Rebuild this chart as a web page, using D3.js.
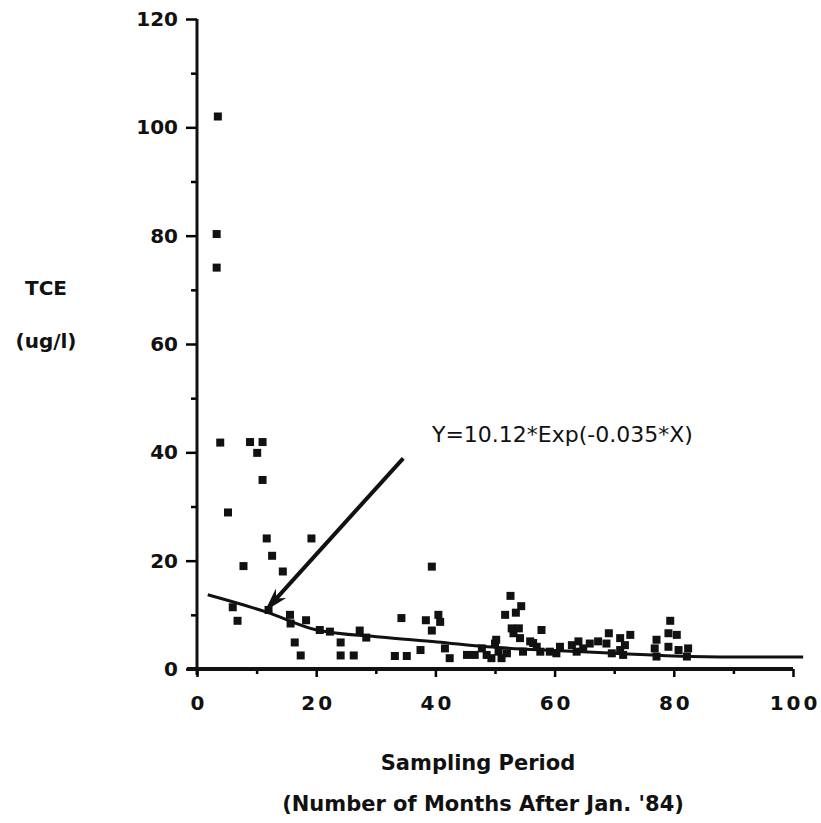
<!DOCTYPE html>
<html lang="en">
<head>
    <meta charset="UTF-8">
    <title>TCE vs Sampling Period</title>
    <script src="https://d3js.org/d3.v7.min.js"></script>
    <style>
        body { margin: 0; background: #fff; }
        svg { display: block; }
        .tick text { font-family: "DejaVu Sans", sans-serif; font-weight: bold; fill: #111; }
        .lbl { font-family: "DejaVu Sans", sans-serif; font-weight: bold; fill: #111; }
    </style>
</head>
<body>
    <svg width="821" height="823"></svg>
    <script>
        // sampled points (months after Jan '84, TCE ug/l)
        var months = [3.5, 3.3, 3.3, 3.9, 8.9, 11.0, 10.1, 11.0, 5.2, 11.7, 19.2, 12.6, 7.8, 14.4, 6.0, 6.8, 12.0, 15.6, 15.7, 18.3,
            16.4, 17.4, 20.6, 22.3, 24.1, 24.1, 26.3, 27.3, 28.4, 39.4, 34.3, 38.4, 40.5, 40.8, 39.4, 33.2, 35.2, 37.5, 41.6, 42.4,
            45.3, 46.6, 47.8, 48.6, 50.0, 50.6, 51.1, 49.4, 52.0, 52.6, 54.4, 53.5, 51.7, 52.8, 54.0, 53.1, 54.2, 57.8, 55.9, 57.0,
            57.6, 59.2, 60.9, 62.9, 63.7, 54.7, 64.0, 64.8, 65.9, 67.3, 68.7, 69.1, 69.6, 71.0, 71.0, 71.8, 72.7, 71.5, 77.1, 76.8,
            77.1, 79.4, 79.1, 80.5, 79.1, 80.8, 82.4, 82.2, 60.3, 56.4, 50.2];
        var tce = [102, 80.3, 74.1, 41.8, 41.9, 41.9, 39.9, 34.9, 28.9, 24.1, 24.1, 20.9, 19.0, 18.0, 11.4, 8.9, 10.9, 10.0, 8.4, 9.0,
            4.9, 2.5, 7.2, 6.9, 4.9, 2.5, 2.5, 7.1, 5.8, 18.9, 9.4, 9.0, 10.0, 8.7, 7.1, 2.4, 2.4, 3.5, 3.8, 2.0,
            2.6, 2.6, 3.8, 2.6, 4.7, 3.2, 2.0, 2.0, 2.9, 13.5, 11.6, 10.4, 10.0, 7.5, 7.5, 6.6, 5.7, 7.2, 5.1, 4.1,
            3.2, 3.2, 4.1, 4.4, 3.2, 3.2, 5.1, 3.8, 4.7, 5.1, 4.7, 6.6, 2.9, 5.7, 3.5, 4.4, 6.3, 2.6, 5.4, 3.8,
            2.3, 8.9, 6.6, 6.3, 4.1, 3.5, 3.8, 2.3, 2.9, 4.8, 5.4];

        // fitted curve as drawn
        var fitX = [1.8, 11.7, 20.1, 30.7, 40.3, 48.7, 60, 70, 80, 90, 101.7];
        var fitY = [13.7, 10.5, 7.2, 5.9, 5.0, 4.1, 3.4, 2.9, 2.4, 2.2, 2.2];

        var xMajor = [0, 20, 40, 60, 80, 100];
        var xMinor = [10, 30, 50, 70, 90];
        var yMajor = [0, 20, 40, 60, 80, 100, 120];
        var yMinor = [10, 30, 50, 70, 90, 110];

        var fitLabel = "Y=10.12*Exp(-0.035*X)";
        var arrowFrom = [34.6, 38.9], arrowTo = [11.4, 10.7];

        var svg = d3.select("svg");
        var x = d3.scaleLinear().domain([0, 100]).range([197, 793]);
        var y = d3.scaleLinear().domain([0, 120]).range([669, 19]);

        // y axis
        var gy = svg.append("g").attr("transform", "translate(" + x(0) + ",0)");
        gy.call(d3.axisLeft(y).tickValues(yMajor).tickSize(11).tickPadding(8).tickSizeOuter(0));
        gy.selectAll(".tick line").attr("stroke-width", 2.5);
        gy.selectAll(".tick text").attr("font-size", 20);
        gy.select(".domain").remove();
        gy.append("g").call(d3.axisLeft(y).tickValues(yMinor).tickSize(6).tickFormat(""))
            .call(function(g) { g.select(".domain").remove(); })
            .selectAll(".tick line").attr("stroke-width", 2.5);
        svg.append("line")
            .attr("x1", x(0)).attr("x2", x(0))
            .attr("y1", y(120)).attr("y2", y(0) + 6)
            .attr("stroke", "#111").attr("stroke-width", 3);

        // x axis
        var gx = svg.append("g").attr("transform", "translate(0," + y(0) + ")");
        gx.call(d3.axisBottom(x).tickValues(xMajor).tickSize(8).tickPadding(19).tickSizeOuter(0));
        gx.select(".domain").remove();
        gx.selectAll(".tick line").attr("stroke-width", 2.5);
        gx.selectAll(".tick text").attr("font-size", 20).attr("letter-spacing", 3).attr("dx", 1.5);
        gx.append("g").call(d3.axisBottom(x).tickValues(xMinor).tickSize(5).tickFormat(""))
            .call(function(g) { g.select(".domain").remove(); })
            .selectAll(".tick line").attr("stroke-width", 2.5);
        svg.append("line")
            .attr("x1", x(0) - 10).attr("x2", x(100))
            .attr("y1", y(0)).attr("y2", y(0))
            .attr("stroke", "#111").attr("stroke-width", 4);

        // fitted curve
        var line = d3.line()
            .x(function(d, i) { return x(fitX[i]); })
            .y(function(d, i) { return y(fitY[i]); })
            .curve(d3.curveMonotoneX);
        svg.append("path")
            .datum(fitX)
            .attr("d", line)
            .attr("fill", "none")
            .attr("stroke", "#111")
            .attr("stroke-width", 3);

        // points
        svg.selectAll(".pt")
            .data(months)
            .enter().append("rect")
            .attr("class", "pt")
            .attr("x", function(d) { return x(d) - 4; })
            .attr("y", function(d, i) { return y(tce[i]) - 4; })
            .attr("width", 8)
            .attr("height", 8)
            .attr("fill", "#111");

        // arrow
        var ax1 = x(arrowFrom[0]), ay1 = y(arrowFrom[1]);
        var ax2 = x(arrowTo[0]), ay2 = y(arrowTo[1]);
        var len = Math.sqrt((ax2 - ax1) * (ax2 - ax1) + (ay2 - ay1) * (ay2 - ay1));
        var ux = (ax2 - ax1) / len, uy = (ay2 - ay1) / len;
        var headL = 24, headW = 7;
        svg.append("line")
            .attr("x1", ax1).attr("y1", ay1)
            .attr("x2", ax2 - ux * headL * 0.7).attr("y2", ay2 - uy * headL * 0.7)
            .attr("stroke", "#111").attr("stroke-width", 4);
        var bx = ax2 - ux * headL, by = ay2 - uy * headL;
        svg.append("path")
            .attr("d", "M" + ax2 + "," + ay2 +
                "L" + (bx - uy * headW) + "," + (by + ux * headW) +
                "L" + (ax2 - ux * headL * 0.7) + "," + (ay2 - uy * headL * 0.7) +
                "L" + (bx + uy * headW) + "," + (by - ux * headW) + "Z")
            .attr("fill", "#111");

        svg.append("text")
            .attr("x", 432)
            .attr("y", 442)
            .attr("font-family", "DejaVu Sans, sans-serif")
            .attr("font-size", 22)
            .attr("fill", "#111")
            .text(fitLabel);

        // axis titles
        svg.append("text").attr("class", "lbl")
            .attr("x", 46).attr("y", 295)
            .attr("text-anchor", "middle").attr("font-size", 20)
            .text("TCE");
        svg.append("text").attr("class", "lbl")
            .attr("x", 46).attr("y", 348)
            .attr("text-anchor", "middle").attr("font-size", 20)
            .text("(ug/l)");
        svg.append("text").attr("class", "lbl")
            .attr("x", 478).attr("y", 770)
            .attr("text-anchor", "middle").attr("font-size", 21)
            .text("Sampling Period");
        svg.append("text").attr("class", "lbl")
            .attr("x", 483).attr("y", 811)
            .attr("text-anchor", "middle").attr("font-size", 21)
            .text("(Number of Months After Jan. '84)");
    </script>
</body>
</html>
